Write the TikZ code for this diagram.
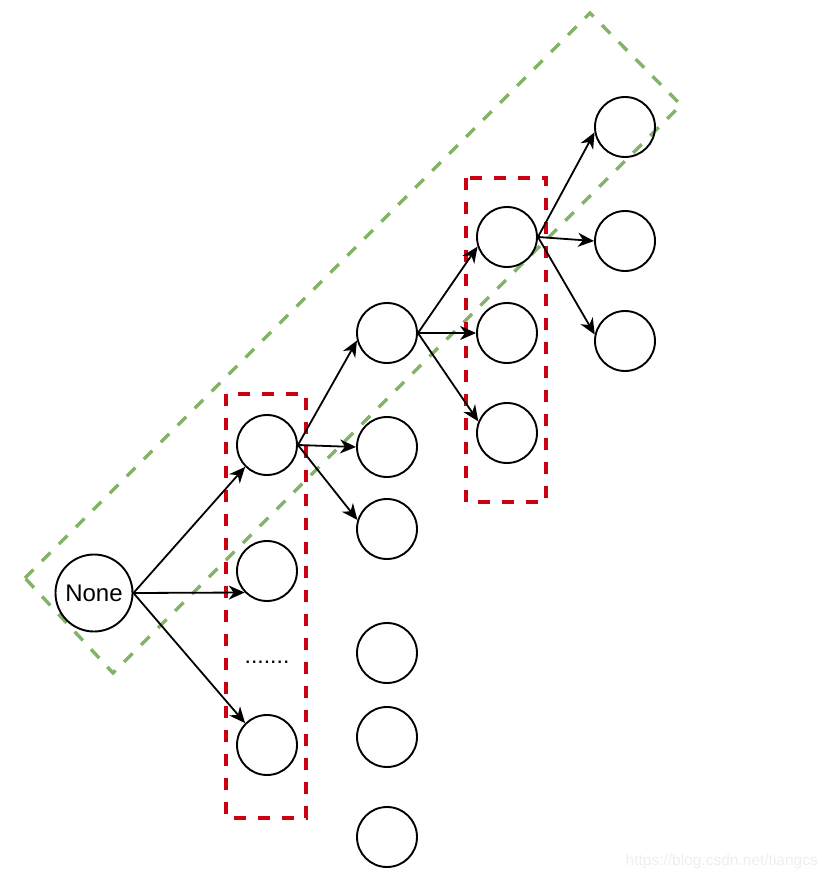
\documentclass[tikz,border=0pt]{standalone}
\usepackage{fontspec}
\setmainfont{Liberation Sans}
\usetikzlibrary{arrows.meta}
\definecolor{boxred}{HTML}{CC0011}
\definecolor{boxgreen}{HTML}{82B366}
\definecolor{wmgray}{HTML}{EEEEEE}
\begin{document}
\begin{tikzpicture}[x=1pt,y=-1pt,
  circ/.style={circle,draw=black,line width=1.9pt,minimum size=60pt,inner sep=0pt},
  bigcirc/.style={circ,minimum size=77pt,font=\fontsize{24}{27}\selectfont},
  arr/.style={line width=1.8pt,-{Stealth[length=16pt,width=14pt,inset=5pt]}},
  redbox/.style={draw=boxred,line width=3.4pt,dash pattern=on 12pt off 12pt},
  greenbox/.style={draw=boxgreen,line width=3.4pt,dash pattern=on 12pt off 12pt}]
\useasboundingbox (0,0) rectangle (826,880);
% green rotated box
\draw[greenbox] (25,578) -- (590,13) -- (681,105) -- (113,673) -- cycle;
% red boxes
\draw[redbox] (226,394) rectangle (306,818);
\draw[redbox] (466,178) rectangle (546,502);
% nodes
\node[bigcirc] (none) at (94,593) {None};
\node[circ] (a1) at (267,445) {};
\node[circ] (a2) at (267,571) {};
\node[font=\fontsize{23}{26}\selectfont] (dots) at (267,662) {.......};
\node[circ] (a3) at (267,745) {};
\node[circ] (b1) at (387,333) {};
\node[circ] (b2) at (387,447) {};
\node[circ] (b3) at (387,529) {};
\node[circ] (b4) at (387,653) {};
\node[circ] (b5) at (387,737) {};
\node[circ] (b6) at (387,837) {};
\node[circ] (c1) at (507,237) {};
\node[circ] (c2) at (507,333) {};
\node[circ] (c3) at (507,433) {};
\node[circ] (d1) at (625,127) {};
\node[circ] (d2) at (625,241) {};
\node[circ] (d3) at (625,341) {};
% edges
\draw[arr] (none.east) -- (a1.225);
\draw[arr] (none.east) -- (a2.224);
\draw[arr] (none.east) -- (a3.135);
\draw[arr] (a1.east) -- (b1.194);
\draw[arr] (a1.east) -- (b2.west);
\draw[arr] (a1.east) -- (b3.163);
\draw[arr] (b1.east) -- (c1.198);
\draw[arr] (b1.east) -- (c2.west);
\draw[arr] (b1.east) -- (c3.158);
\draw[arr] (c1.east) -- (d1.190);
\draw[arr] (c1.east) -- (d2.west);
\draw[arr] (c1.east) -- (d3.168);
% watermark
\node[text=wmgray,font=\fontsize{15.5}{18}\selectfont,anchor=east,inner sep=0pt] (wm) at (818,861) {https://blog.csdn.net/tiangcs};
\end{tikzpicture}
\end{document}
